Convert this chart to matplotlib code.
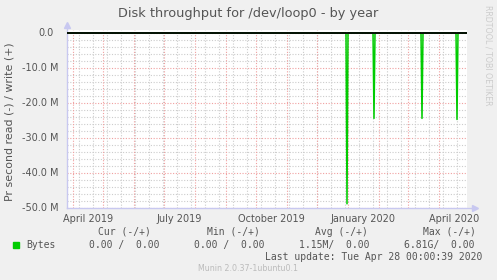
import matplotlib
matplotlib.use("Agg")
import matplotlib.pyplot as plt
import matplotlib.dates as mdates
import pandas as pd

# read bytes per second (shown negative), spikes only, all other days 0
spike_dates = ["2019-12-31", "2020-01-27", "2020-03-15", "2020-04-19"]
spike_read = [48.8e6, 24.4e6, 24.4e6, 24.7e6]

start, end = "2019-03-26", "2020-04-29"

y_ticks = [0, -10e6, -20e6, -30e6, -40e6, -50e6]
y_labels = ["0.0", "-10.0 M", "-20.0 M", "-30.0 M", "-40.0 M", "-50.0 M"]

x_label_dates = ["2019-04-16", "2019-07-16", "2019-10-16", "2020-01-16", "2020-04-16"]
x_labels = ["April 2019", "July 2019", "October 2019", "January 2020", "April 2020"]

headers = ["Cur (-/+)", "Min (-/+)", "Avg (-/+)", "Max (-/+)"]
values = ["0.00 /  0.00", "0.00 /  0.00", "1.15M/  0.00", "6.81G/  0.00"]

days = pd.date_range(start, end, freq="D")
read = pd.Series(0.0, index=days)
read[pd.to_datetime(spike_dates)] = spike_read

BG = "#f0f0f0"
W, H = 497, 280
fig = plt.figure(figsize=(W / 100, H / 100), dpi=100, facecolor=BG)
ax = fig.add_axes([67 / W, (H - 208) / H, 400 / W, 178 / H])
ax.set_facecolor("white")

t0, t1 = mdates.datestr2num(start), mdates.datestr2num(end)
ax.set_xlim(t0, t1)
ax.set_ylim(-50e6, 0.857e6)

# grid
for y in range(0, -50_000_001, -2_000_000):
    if y % 10_000_000:
        ax.axhline(y, color="#cccccc", lw=0.8, ls=(0, (1, 1.5)), zorder=1)
for y in y_ticks:
    ax.axhline(y, color="#f0a0a0", lw=0.8, ls=(0, (1, 1.5)), zorder=1)
for d in pd.date_range("2019-04-07", end, freq="14D"):
    ax.axvline(mdates.date2num(d), color="#cccccc", lw=0.8, ls=(0, (1, 1.5)), zorder=1)
for d in pd.date_range("2019-04-01", end, freq="MS"):
    ax.axvline(mdates.date2num(d), color="#f0a0a0", lw=0.8, ls=(0, (1, 1.5)), zorder=1)

ax.plot(mdates.date2num(days), -read.values, color="#00cc00", lw=1.1, zorder=3)
ax.axhline(0, color="black", lw=1.3, zorder=4)

for s in ax.spines.values():
    s.set_visible(False)
ax.plot([0, 0], [0, 1.02], transform=ax.transAxes, color="#c8c8f0", lw=1, clip_on=False)
ax.plot([0, 1.015], [0, 0], transform=ax.transAxes, color="#c8c8f0", lw=1, clip_on=False)
ax.plot([0], [1.03], "^", ms=4, color="#c8c8f0", transform=ax.transAxes, clip_on=False)
ax.plot([1.02], [0], ">", ms=4, color="#c8c8f0", transform=ax.transAxes, clip_on=False)

ax.set_yticks([])
for y, lab in zip(y_ticks, y_labels):
    off = -13 / 400 if lab == "0.0" else -8 / 400
    ax.text(off, y, lab, transform=ax.get_yaxis_transform(), ha="right", va="center",
            fontsize=7, color="#555555")

ax.set_xticks(mdates.datestr2num(x_label_dates))
ax.set_xticklabels(x_labels, fontsize=7, color="#555555")
ax.tick_params(axis="x", length=0, pad=4)

fig.text(248.5 / W, 1 - 13 / H, "Disk throughput for /dev/loop0 - by year", ha="center",
         va="center", fontsize=9.3, color="#555555")
fig.text(10 / W, 1 - 121.7 / H, "Pr second read (-) / write (+)", rotation=90, ha="center",
         va="center", fontsize=7.9, color="#555555")
fig.text(488 / W, 1 - 5 / H, "RRDTOOL / TOBI OETIKER", rotation=-90, ha="center", va="top",
         fontsize=5.7, color="#cccccc")

mono = "DejaVu Sans Mono"
for i, (h, v) in enumerate(zip(headers, values)):
    fig.text((98.3 + 108.3 * i) / W, 1 - 232 / H, h, family=mono, fontsize=7,
             color="#555555", va="center")
    fig.text((89.3 + 105 * i) / W, 1 - 245 / H, v, family=mono, fontsize=7,
             color="#555555", va="center")
fig.patches.append(plt.Rectangle((13 / W, 1 - 248 / H), 6 / W, 6 / H, color="#00cc00",
                                 transform=fig.transFigure, figure=fig))
fig.text(26.7 / W, 1 - 245 / H, "Bytes", family=mono, fontsize=7, color="#555555", va="center")
fig.text(482 / W, 1 - 257 / H, "Last update: Tue Apr 28 00:00:39 2020", family=mono,
         fontsize=7, color="#555555", va="center", ha="right")
fig.text(248 / W, 1 - 268.5 / H, "Munin 2.0.37-1ubuntu0.1", fontsize=5.7, color="#bbbbbb",
         ha="center", va="center")

fig.savefig("out.png", dpi=100, facecolor=BG)
